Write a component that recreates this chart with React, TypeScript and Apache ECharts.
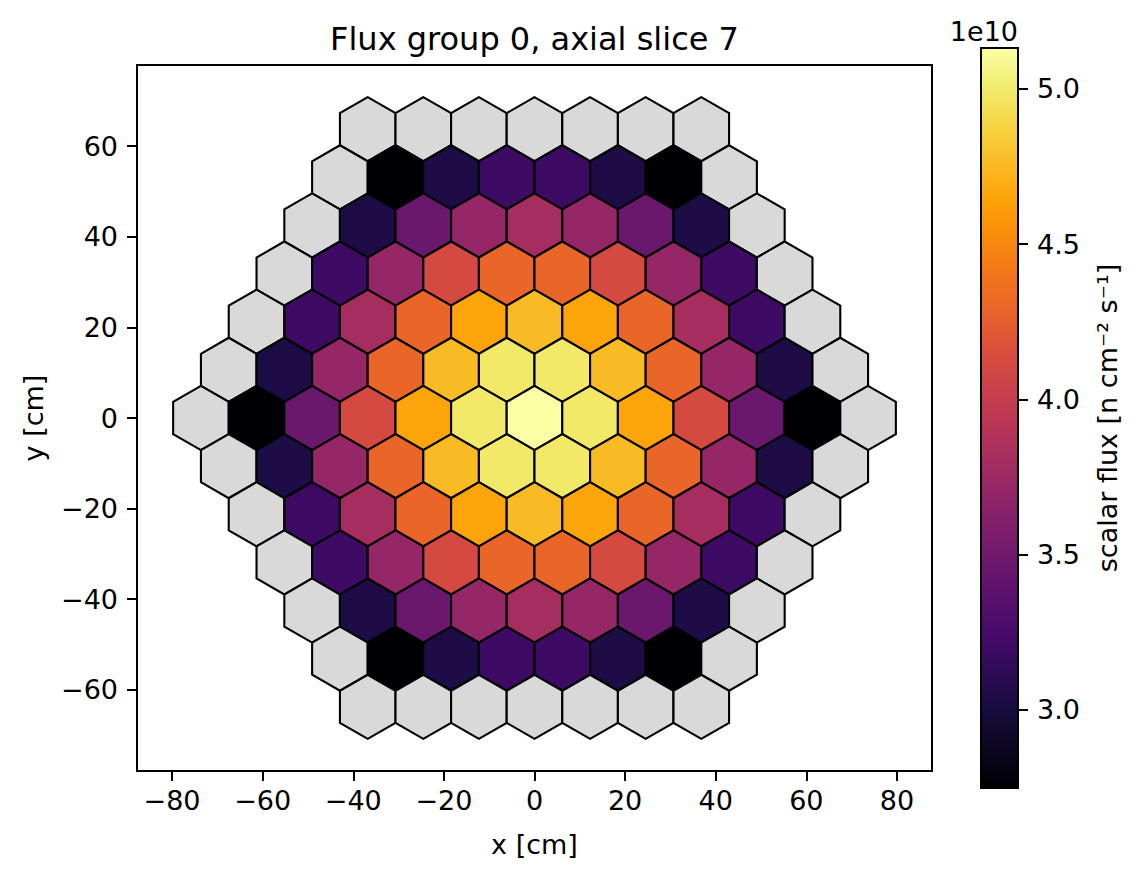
import React, { useEffect, useRef } from "react";
import * as echarts from "echarts";

// ---------- texts ----------
const TITLE = "Flux group 0, axial slice 7";
const X_NAME = "x [cm]";
const Y_NAME = "y [cm]";
const CBAR_LABEL = "scalar flux [n cm\u207B\u00B2 s\u207B\u00B9]";
const CBAR_OFFSET = "1e10";

// ---------- ticks ----------
const X_TICKS = [-80, -60, -40, -20, 0, 20, 40, 60, 80];
const Y_TICKS = [-60, -40, -20, 0, 20, 40, 60];
const CBAR_TICKS = [3.0, 3.5, 4.0, 4.5, 5.0];

// ---------- data: scalar flux per assembly, units of 1e10, rows top -> bottom (null = no flux, drawn grey) ----------
const ROW_INDEX = [6, 5, 4, 3, 2, 1, 0, -1, -2, -3, -4, -5, -6];
const FLUX_ROWS: (number | null)[][] = [
  [null, null, null, null, null, null, null],
  [null, 2.748, 3.034, 3.201, 3.201, 3.034, 2.748, null],
  [null, 3.034, 3.463, 3.713, 3.809, 3.713, 3.463, 3.034, null],
  [null, 3.201, 3.713, 4.114, 4.302, 4.302, 4.114, 3.713, 3.201, null],
  [null, 3.201, 3.809, 4.302, 4.655, 4.76, 4.655, 4.302, 3.809, 3.201, null],
  [null, 3.034, 3.713, 4.302, 4.76, 4.99, 4.99, 4.76, 4.302, 3.713, 3.034, null],
  [null, 2.748, 3.463, 4.114, 4.655, 4.99, 5.132, 4.99, 4.655, 4.114, 3.463, 2.748, null],
  [null, 3.034, 3.713, 4.302, 4.76, 4.99, 4.99, 4.76, 4.302, 3.713, 3.034, null],
  [null, 3.201, 3.809, 4.302, 4.655, 4.76, 4.655, 4.302, 3.809, 3.201, null],
  [null, 3.201, 3.713, 4.114, 4.302, 4.302, 4.114, 3.713, 3.201, null],
  [null, 3.034, 3.463, 3.713, 3.809, 3.713, 3.463, 3.034, null],
  [null, 2.748, 3.034, 3.201, 3.201, 3.034, 2.748, null],
  [null, null, null, null, null, null, null],
];

// assembly pitch [cm]
const PITCH = 12.27;

// inferno colormap stops
const INFERNO: [number, string][] = [
  [0.0, "#000004"],
  [0.1, "#160b39"],
  [0.125, "#1f0c48"],
  [0.2, "#420a68"],
  [0.25, "#570f6d"],
  [0.3, "#6a176e"],
  [0.375, "#88226a"],
  [0.4, "#932667"],
  [0.5, "#bc3754"],
  [0.6, "#dd513a"],
  [0.625, "#e55c30"],
  [0.7, "#f37819"],
  [0.75, "#f98e09"],
  [0.8, "#fca50a"],
  [0.9, "#f6d746"],
  [0.95, "#f1ed71"],
  [1.0, "#fcffa4"],
];

const GREY = "#d9d9d9";
const FONT = "DejaVu Sans";

function hexToRgb(h: string) {
  return [parseInt(h.slice(1, 3), 16), parseInt(h.slice(3, 5), 16), parseInt(h.slice(5, 7), 16)];
}
function inferno(t: number) {
  const u = Math.max(0, Math.min(1, t));
  for (let i = 1; i < INFERNO.length; i++) {
    if (u <= INFERNO[i][0]) {
      const [t0, c0] = INFERNO[i - 1];
      const [t1, c1] = INFERNO[i];
      const f = (u - t0) / (t1 - t0);
      const a = hexToRgb(c0);
      const b = hexToRgb(c1);
      const r = a.map((v, k) => Math.round(v + (b[k] - v) * f));
      return `rgb(${r[0]},${r[1]},${r[2]})`;
    }
  }
  return INFERNO[INFERNO.length - 1][1];
}

const fmtMinus = (v: number) => String(v).replace("-", "\u2212");

export default function App() {
  const ref = useRef<HTMLDivElement>(null);

  useEffect(() => {
    document.body.style.margin = "0";
    if (!ref.current) return;
    const chart = echarts.init(ref.current, undefined, { renderer: "svg" });

    // build cells from rows
    const rowStep = (PITCH * Math.sqrt(3)) / 2;
    const cells: { x: number; y: number; v: number | null }[] = [];
    FLUX_ROWS.forEach((row, ri) => {
      const n = row.length;
      row.forEach((v, j) => {
        cells.push({ x: (j - (n - 1) / 2) * PITCH, y: ROW_INDEX[ri] * rowStep, v });
      });
    });
    const vals = cells.filter((c) => c.v != null).map((c) => c.v as number);
    const vmin = Math.min(...vals);
    const vmax = Math.max(...vals);

    const R = PITCH / Math.sqrt(3);
    const xExt = Math.max(...cells.map((c) => Math.abs(c.x))) + PITCH / 2;
    const yExt = Math.max(...cells.map((c) => Math.abs(c.y))) + R;
    const XLIM = xExt * 1.1;
    const YLIM = yExt * 1.1;
    const ANG = [90, 150, 210, 270, 330, 30].map((d) => (d * Math.PI) / 180);

    const tickStyle = { color: "#000", width: 2 };
    const labelFont = { fontFamily: FONT, fontSize: 27, color: "#000" };

    const option: any = {
      animation: false,
      backgroundColor: "#fff",
      grid: [
        { left: 137, top: 65, width: 795, height: 706, show: true, borderColor: "#000", borderWidth: 2, backgroundColor: "transparent" },
        { left: 981, top: 48, width: 37, height: 740, show: false },
      ],
      xAxis: [
        {
          gridIndex: 0,
          type: "value",
          min: -XLIM,
          max: XLIM,
          name: X_NAME,
          nameLocation: "middle",
          nameGap: 60,
          nameTextStyle: { ...labelFont },
          axisLine: { show: false, onZero: false },
          splitLine: { show: false },
          axisTick: { show: true, customValues: X_TICKS, length: 10, lineStyle: tickStyle },
          axisLabel: { customValues: X_TICKS, margin: 16, formatter: fmtMinus, ...labelFont },
        },
        { gridIndex: 1, type: "value", min: 0, max: 1, show: false },
      ],
      yAxis: [
        {
          gridIndex: 0,
          type: "value",
          min: -YLIM,
          max: YLIM,
          name: Y_NAME,
          nameLocation: "middle",
          nameGap: 90,
          nameRotate: 90,
          nameTextStyle: { ...labelFont },
          axisLine: { show: false, onZero: false },
          splitLine: { show: false },
          axisTick: { show: true, customValues: Y_TICKS, length: 10, lineStyle: tickStyle },
          axisLabel: { customValues: Y_TICKS, margin: 19, formatter: fmtMinus, ...labelFont },
        },
        {
          gridIndex: 1,
          type: "value",
          position: "right",
          min: vmin,
          max: vmax,
          axisLine: { show: false, onZero: false },
          splitLine: { show: false },
          axisTick: { show: true, customValues: CBAR_TICKS, length: 10, lineStyle: tickStyle },
          axisLabel: { customValues: CBAR_TICKS, margin: 19, formatter: (v: number) => v.toFixed(1), ...labelFont },
        },
      ],
      series: [
        {
          type: "custom",
          coordinateSystem: "cartesian2d",
          xAxisIndex: 0,
          yAxisIndex: 0,
          silent: true,
          clip: false,
          data: cells.map((c) => [c.x, c.y]),
          encode: { x: 0, y: 1 },
          renderItem: (params: any, api: any) => {
            const c = cells[params.dataIndex];
            const pts = ANG.map((a) => api.coord([c.x + R * Math.cos(a), c.y + R * Math.sin(a)]));
            return {
              type: "polygon",
              shape: { points: pts },
              style: {
                fill: c.v == null ? GREY : inferno((c.v - vmin) / (vmax - vmin)),
                stroke: "#000",
                lineWidth: 2.1,
                lineJoin: "miter",
              },
            };
          },
        },
        {
          type: "custom",
          coordinateSystem: "cartesian2d",
          xAxisIndex: 1,
          yAxisIndex: 1,
          silent: true,
          clip: false,
          data: [[0, vmin]],
          encode: { x: 0, y: 1 },
          renderItem: (params: any, api: any) => {
            const p0 = api.coord([0, vmin]);
            const p1 = api.coord([1, vmax]);
            return {
              type: "rect",
              shape: { x: p0[0], y: p1[1], width: p1[0] - p0[0], height: p0[1] - p1[1] },
              style: {
                fill: new echarts.graphic.LinearGradient(
                  0,
                  1,
                  0,
                  0,
                  INFERNO.map(([t, col]) => ({ offset: t, color: col }))
                ),
                stroke: "#000",
                lineWidth: 2,
              },
            };
          },
        },
      ],
      graphic: [
        {
          type: "text",
          x: 534.5,
          y: 39,
          style: { text: TITLE, font: `32px "${FONT}"`, fill: "#000", align: "center", verticalAlign: "middle", textAlign: "center", textVerticalAlign: "middle" },
        },
        {
          type: "text",
          x: 1018,
          y: 31,
          style: { text: CBAR_OFFSET, font: `27px "${FONT}"`, fill: "#000", align: "right", verticalAlign: "middle", textAlign: "right", textVerticalAlign: "middle" },
        },
        {
          type: "text",
          x: 1107,
          y: 418,
          rotation: Math.PI / 2,
          style: { text: CBAR_LABEL, font: `27px "${FONT}"`, fill: "#000", align: "center", verticalAlign: "middle", textAlign: "center", textVerticalAlign: "middle" },
        },
      ],
    };

    chart.setOption(option);
    return () => chart.dispose();
  }, []);

  return <div ref={ref} style={{ position: "absolute", left: 0, top: 0, width: 1140, height: 877 }} />;
}
